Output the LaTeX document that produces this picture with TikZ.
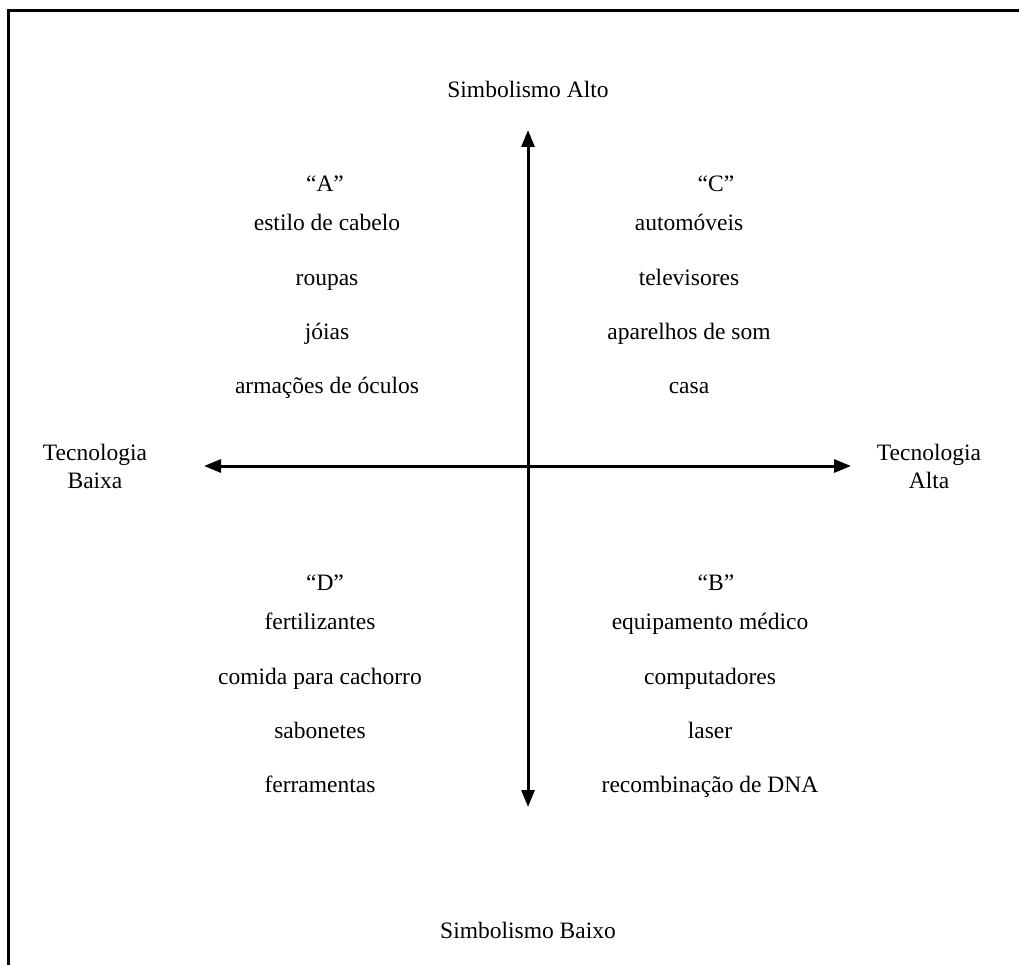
\documentclass[tikz,border=0pt]{standalone}
\usepackage{fontspec}
\setmainfont{Liberation Serif}
\usetikzlibrary{arrows.meta}
\begin{document}
\begin{tikzpicture}[x=1pt,y=-1pt,
  lbl/.style={font=\fontsize{23.5}{28}\selectfont, inner sep=0pt, align=center,
    text height=16pt, text depth=5pt},
  axis/.style={line width=3pt, {Triangle[length=17pt,width=13pt]}-{Triangle[length=17pt,width=13pt]}}]
\useasboundingbox (0,0) rectangle (1019,965);
% frame (its right and bottom sides lie outside the page)
\draw[line width=3pt] (8,980) |- (1040,11);

% axes
\coordinate (top) at (528,130);
\coordinate (bot) at (528,807);
\coordinate (lft) at (204,466);
\coordinate (rgt) at (851,466);
\draw[axis] (bot) -- (top);
\draw[axis] (lft) -- (rgt);

% axis labels
\node[lbl] (sa) at (528,92) {Simbolismo Alto};
\node[lbl] (sb) at (528,933) {Simbolismo Baixo};
\node[lbl] (tb) at (95,483) {Tecnologia\\Baixa};
\node[lbl] (ta) at (929,483) {Tecnologia\\Alta};

% quadrant A
\node[lbl] (qa) at (325,186) {“A”};
\node[lbl] (a1) at (327,225) {estilo de cabelo};
\node[lbl] (a2) at (327,280) {roupas};
\node[lbl] (a3) at (327,334) {jóias};
\node[lbl] (a4) at (327,388) {armações de óculos};

% quadrant C
\node[lbl] (qc) at (716,186) {“C”};
\node[lbl] (c1) at (689,225) {automóveis};
\node[lbl] (c2) at (689,280) {televisores};
\node[lbl] (c3) at (689,334) {aparelhos de som};
\node[lbl] (c4) at (689,388) {casa};

% quadrant D
\node[lbl] (qd) at (325,585) {“D”};
\node[lbl] (d1) at (320,624) {fertilizantes};
\node[lbl] (d2) at (320,679) {comida para cachorro};
\node[lbl] (d3) at (320,733) {sabonetes};
\node[lbl] (d4) at (320,787) {ferramentas};

% quadrant B
\node[lbl] (qb) at (716,585) {“B”};
\node[lbl] (b1) at (710,624) {equipamento médico};
\node[lbl] (b2) at (710,679) {computadores};
\node[lbl] (b3) at (710,733) {laser};
\node[lbl] (b4) at (710,787) {recombinação de DNA};
\end{tikzpicture}
\end{document}
